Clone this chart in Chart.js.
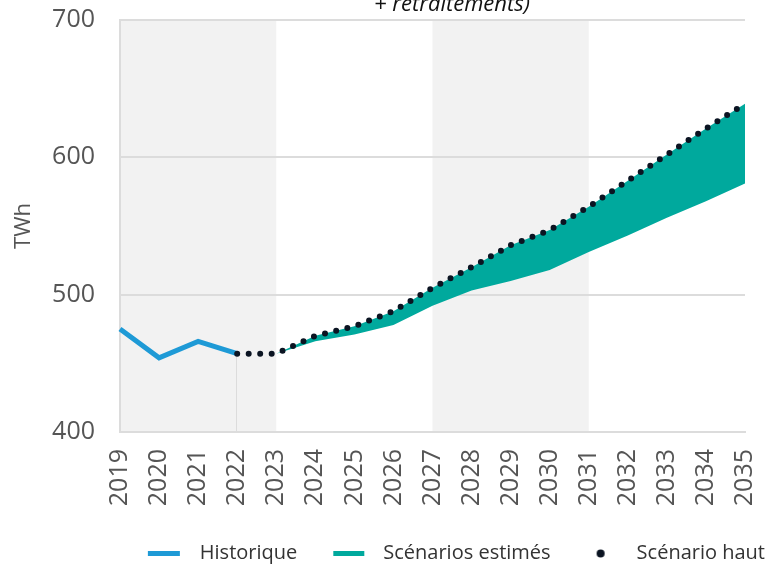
<!DOCTYPE html>
<html lang="fr">
<head>
<meta charset="utf-8">
<script src="https://cdn.jsdelivr.net/npm/chart.js@4.4.1/dist/chart.umd.min.js"></script>
<style>
  html, body { margin: 0; padding: 0; background: #fff; }
  #wrap { width: 769px; height: 566px; }
</style>
</head>
<body>
<div id="wrap"><canvas id="chart" width="769" height="566"></canvas></div>
<script>
const annees = ['2019', '2020', '2021', '2022', '2023', '2024', '2025', '2026', '2027',
                '2028', '2029', '2030', '2031', '2032', '2033', '2034', '2035'];
const historique = [475, 454, 466, 457, null, null, null, null, null,
                    null, null, null, null, null, null, null, null];
const scenarioHaut = [null, null, null, 457, 457, 470, 477, 488, 505,
                      520, 536, 547, 564, 583, 602, 621, 639];
const scenarioBas = [null, null, null, null, 457, 466, 471, 478, 492,
                     503, 510, 518, 531, 543, 556, 568, 581];
const ticksY = [400, 500, 600, 700];
const bandes = [['2019', '2023'], ['2027', '2031']];

const BLEU = '#1e9ad6';
const TURQUOISE = '#00a99d';
const NOIR = '#0b1422';
const POLICE = '"Open Sans", "Noto Sans", sans-serif';

// le haut de la zone remplie suit le scénario haut, mais seulement à partir de 2023
const debutEstime = annees.indexOf('2023');
const hautZone = scenarioHaut.map((v, i) => (i >= debutEstime ? v : null));

// petites images pour les symboles de la légende (centrées à 46 px avant le texte)
function symbole(dessin) {
    const c = document.createElement('canvas');
    c.width = 110; c.height = 12;
    dessin(c.getContext('2d'));
    return c;
}
const symHistorique = symbole(g => { g.fillStyle = BLEU; g.fillRect(49, 4, 32, 5); });
const symEstimes = symbole(g => { g.fillStyle = TURQUOISE; g.fillRect(51, 4, 31, 5); });
const symHaut = symbole(g => { g.fillStyle = NOIR; g.beginPath(); g.arc(65, 6.5, 4, 0, Math.PI * 2); g.fill(); });

const fondBandes = {
    id: 'fondBandes',
    beforeDraw(chart) {
        const { ctx, chartArea: a, scales: { x, y } } = chart;
        ctx.save();
        ctx.fillStyle = '#f2f2f2';
        bandes.forEach(([d, f]) => {
            const x0 = x.getPixelForValue(annees.indexOf(d));
            const x1 = x.getPixelForValue(annees.indexOf(f));
            ctx.fillRect(x0, a.top, x1 - x0, a.bottom - a.top);
        });
        // trait fin sous le dernier point historique
        const i22 = annees.indexOf('2022');
        const xp = Math.round(x.getPixelForValue(i22)) - 0.5;
        ctx.strokeStyle = '#dcdcdc';
        ctx.lineWidth = 1;
        ctx.beginPath();
        ctx.moveTo(xp, y.getPixelForValue(historique[i22]));
        ctx.lineTo(xp, a.bottom);
        ctx.stroke();
        ctx.restore();
    },
    afterDraw(chart) {
        // fin du titre, coupé en haut de l'image
        const ctx = chart.ctx;
        ctx.save();
        ctx.font = 'italic 22px ' + POLICE;
        ctx.fillStyle = '#111';
        ctx.textAlign = 'center';
        ctx.textBaseline = 'alphabetic';
        ctx.fillText('+ retraitements)', 452, 11);
        ctx.restore();
    }
};

new Chart(document.getElementById('chart'), {
    type: 'line',
    data: {
        labels: annees,
        datasets: [
            {
                label: 'Historique',
                data: historique,
                borderColor: BLEU,
                borderWidth: 5,
                pointRadius: 0,
                tension: 0,
                order: 3
            },
            {
                label: 'bas',
                data: scenarioBas,
                borderWidth: 0,
                borderColor: 'rgba(0,0,0,0)',
                pointRadius: 0,
                fill: false,
                order: 2
            },
            {
                label: 'Scénarios estimés',
                data: hautZone,
                borderWidth: 0,
                borderColor: 'rgba(0,0,0,0)',
                backgroundColor: TURQUOISE,
                pointRadius: 0,
                fill: '-1',
                order: 2
            },
            {
                label: 'Scénario haut',
                data: scenarioHaut,
                borderColor: NOIR,
                borderWidth: 6,
                borderDash: [0, 11.5],
                borderCapStyle: 'round',
                borderJoinStyle: 'round',
                pointRadius: 0,
                tension: 0,
                order: 1
            }
        ]
    },
    options: {
        responsive: false,
        animation: false,
        maintainAspectRatio: false,
        layout: { padding: { top: 20, right: 0, left: 0, bottom: -7 } },
        scales: {
            x: {
                grid: { display: false, drawTicks: false },
                border: { display: true, color: '#dcdcdc', width: 2 },
                ticks: {
                    color: '#555',
                    font: { family: POLICE, size: 25 },
                    maxRotation: 90,
                    minRotation: 90,
                    padding: 17,
                    autoSkip: false
                },
                afterFit(s) {
                    s.height = 107;
                    s.paddingLeft = 0;
                    s.paddingRight = 24;
                }
            },
            y: {
                min: 400,
                max: 700,
                afterBuildTicks(axis) { axis.ticks = ticksY.map(v => ({ value: v })); },
                grid: { color: '#dcdcdc', lineWidth: 2, drawTicks: false },
                border: { display: true, color: '#dcdcdc', width: 2 },
                ticks: {
                    color: '#555',
                    font: { family: POLICE, size: 25 },
                    padding: 25
                },
                title: {
                    display: true,
                    text: 'TWh',
                    color: '#555',
                    font: { family: POLICE, size: 22 },
                    padding: { top: 11, bottom: 0 }
                },
                afterFit(s) {
                    s.width = 120;
                    s.paddingTop = 0;
                    s.paddingBottom = 0;
                }
            }
        },
        plugins: {
            legend: {
                position: 'bottom',
                align: 'end',
                labels: {
                    usePointStyle: true,
                    pointStyleWidth: 72,
                    padding: 4,
                    color: '#333',
                    font: { family: POLICE, size: 20 },
                    generateLabels() {
                        return [
                            { text: 'Historique', pointStyle: symHistorique, datasetIndex: 0, fontColor: '#333' },
                            { text: 'Scénarios estimés', pointStyle: symEstimes, datasetIndex: 2, fontColor: '#333' },
                            { text: 'Scénario haut', pointStyle: symHaut, datasetIndex: 3, fontColor: '#333' }
                        ];
                    }
                }
            },
            tooltip: { enabled: false }
        }
    },
    plugins: [fondBandes]
});
</script>
</body>
</html>
